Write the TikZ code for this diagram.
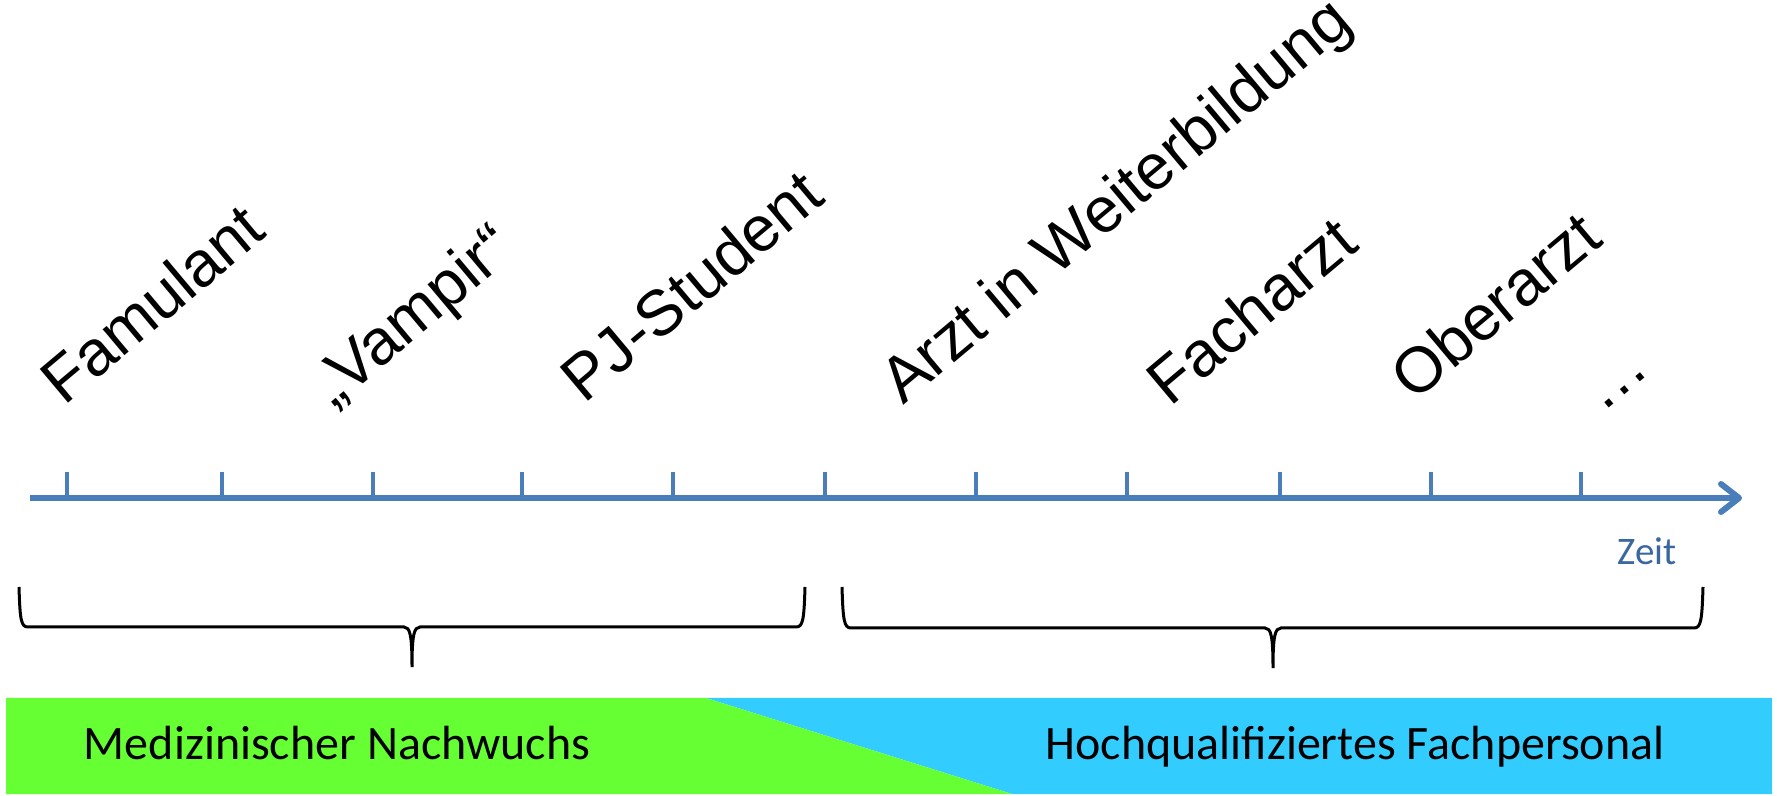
\documentclass[tikz,border=0pt]{standalone}
\usepackage{fontspec}
\setmainfont{Liberation Sans}
\newfontfamily\calibri{Carlito}
\usetikzlibrary{arrows.meta}
\definecolor{axisblue}{HTML}{4A7EBB}
\definecolor{zeitblue}{HTML}{3A67A0}
\definecolor{nachwuchsgreen}{HTML}{66FF33}
\definecolor{fachblue}{HTML}{33CCFF}

\begin{document}
\begin{tikzpicture}[x=1pt,y=1pt,
  stage/.style={anchor=base west, rotate=40, inner sep=0pt, font=\fontsize{64}{77}\selectfont},
  band/.style={anchor=base, inner sep=0pt, font=\calibri\fontsize{48}{58}\selectfont}]
\useasboundingbox (0,0) rectangle (1777,795);
% bands
\fill[fachblue] (706,97) -- (1772,97) -- (1772,1) -- (1012,1) -- cycle;
\fill[nachwuchsgreen] (6,97) -- (706,97) -- (1012,1) -- (6,1) -- cycle;
\node[band] (Nachwuchs) at (337,36) {Medizinischer Nachwuchs};
\node[band] (Fachpersonal) at (1355,36) {Hochqualifiziertes Fachpersonal};
% axis
\coordinate (Start) at (30,297);
\coordinate (End) at (1742,297);
\draw[axisblue, line width=6pt, -{Straight Barb[length=18pt,width=28pt,round]}] (Start) -- (End);
\foreach \x in {67,222,373,522,673,825,976,1127,1280,1431,1581}\draw[axisblue, line width=4pt] (\x,297) -- (\x,323);
\node[zeitblue, anchor=base, inner sep=0pt, font=\calibri\fontsize{39}{47}\selectfont] (Zeit) at (1647,230) {Zeit};
% braces
\draw[line width=3pt] (19,208) .. controls (20,175) and (21,168) .. (28,168) -- (404,168) .. controls (410,168) and (412,160) .. (412,128) .. controls (412,160) and (414,168) .. (420,168) -- (796,168) .. controls (803,168) and (804,175) .. (805,208);
\draw[line width=3pt] (842,208) .. controls (843,175) and (844,167) .. (851,167) -- (1265,167) .. controls (1271,167) and (1273,159) .. (1273,127) .. controls (1273,159) and (1275,167) .. (1281,167) -- (1694,167) .. controls (1701,167) and (1702,175) .. (1703,208);
% stages
\node[stage] (Famulant) at (64,388) {Famulant};
\node[stage] (Vampir) at (333,386) {„Vampir“};
\node[stage] (PJ) at (584,390) {PJ-Student};
\node[stage] (AiW) at (903,389) {Arzt in Weiterbildung};
\node[stage] (Facharzt) at (1170,387) {Facharzt};
\node[stage] (Oberarzt) at (1414,392) {Oberarzt};
\node[stage] (Dots) at (1602,381) {…};
\end{tikzpicture}
\end{document}
